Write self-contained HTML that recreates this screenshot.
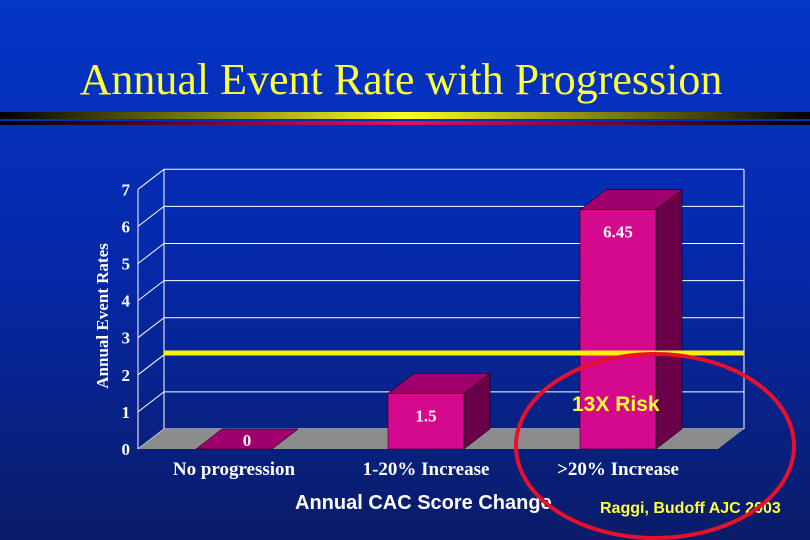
<!DOCTYPE html>
<html><head><meta charset="utf-8"><style>
body{margin:0;width:810px;height:540px;overflow:hidden;}
svg{display:block}
</style></head><body>
<svg width="810" height="540" font-family="Liberation Serif, serif">
<defs>
<linearGradient id="bg" x1="0" y1="0" x2="0" y2="1"><stop offset="0" stop-color="#0436c8"/><stop offset="0.5" stop-color="#0528a8"/><stop offset="1" stop-color="#0a1c68"/></linearGradient>
<linearGradient id="ys" x1="0" x2="1"><stop offset="0" stop-color="#000"/><stop offset="0.5" stop-color="#ffff20"/><stop offset="1" stop-color="#000"/></linearGradient>
<linearGradient id="ps" x1="0" x2="1"><stop offset="0" stop-color="#000"/><stop offset="0.5" stop-color="#e0106a"/><stop offset="1" stop-color="#000"/></linearGradient>
</defs>
<rect width="810" height="540" fill="url(#bg)"/>
<text x="401" y="94" text-anchor="middle" font-size="44" fill="#ffff40">Annual Event Rate with Progression</text>
<rect x="0" y="112" width="810" height="7" fill="url(#ys)"/>
<rect x="0" y="121" width="810" height="4" fill="url(#ps)"/>
<g id="chart"></g>
<text x="108" y="316" transform="rotate(-90 108 316)" text-anchor="middle" font-size="17" font-weight="bold" fill="#fff">Annual Event Rates</text>
<text x="295" y="509" font-family="Liberation Sans, sans-serif" font-size="20" font-weight="bold" fill="#fff">Annual CAC Score Change</text>
<text x="600" y="513" font-family="Liberation Sans, sans-serif" font-size="16" font-weight="bold" fill="#ffff40">Raggi, Budoff AJC 2003</text>
<text x="572" y="411" font-family="Liberation Sans, sans-serif" font-size="21" font-weight="bold" fill="#ffff30">13X Risk</text>
<ellipse cx="655" cy="446" rx="139" ry="92" fill="none" stroke="#e8102a" stroke-width="4"/>
</svg>
<script>
const categories=["No progression","1-20% Increase",">20% Increase"];
const values=[0,1.5,6.45];
const valueLabels=["0","1.5","6.45"];
const yTicks=[0,1,2,3,4,5,6,7];
const thresholdValue=2.05;
const NS="http://www.w3.org/2000/svg";
const g=document.getElementById("chart");
const X0=138,Y0=449,UNIT=37.1,DX=26,DY=-20,STEP=192,BW=76,FIRST=196,XR=718;
const y=v=>Y0-v*UNIT;
const xc=i=>FIRST+BW/2+i*STEP;
function mk(tag,attrs){const e=document.createElementNS(NS,tag);for(const k in attrs)e.setAttribute(k,attrs[k]);g.appendChild(e);return e;}
yTicks.forEach(t=>{
 const l=mk("polyline",{points:`${X0},${y(t)} ${X0+DX},${y(t)+DY} ${XR+DX},${y(t)+DY}`,fill:"none",stroke:"#fff","stroke-width":1});
 
 
 const tx=mk("text",{x:X0-8,y:y(t)+6,"text-anchor":"end","font-size":17,"font-weight":"bold",fill:"#fff"});
 tx.textContent=t;
 
 
});
const wallL=mk("line",{x1:X0+DX,y1:y(0)+DY,x2:X0+DX,y2:y(7)+DY,stroke:"#fff"});


const wallR=mk("line",{x1:XR+DX,y1:y(0)+DY,x2:XR+DX,y2:y(7)+DY,stroke:"#fff"});


const axis=mk("line",{x1:X0,y1:y(0),x2:X0,y2:y(7),stroke:"#fff"});


const floor=mk("polygon",{points:`${X0},${Y0} ${X0+DX},${Y0+DY} ${XR+DX},${Y0+DY} ${XR},${Y0}`,fill:"#8c8c8c"});


values.forEach((v,i)=>{
 const x1=xc(i)-BW/2,x2=xc(i)+BW/2,yt=y(v);
 const side=mk("polygon",{points:`${x2},${Y0} ${x2+DX},${Y0+DY} ${x2+DX},${yt+DY} ${x2},${yt}`,fill:"#6a0048",stroke:"#000","stroke-width":0.5});
 
 
 const top=mk("polygon",{points:`${x1},${yt} ${x1+DX},${yt+DY} ${x2+DX},${yt+DY} ${x2},${yt}`,fill:"#a0006e",stroke:"#000","stroke-width":0.5});
 
 
 if(v>0){
  const fr=mk("rect",{x:x1,y:yt,width:BW,height:Y0-yt,fill:"#d4098e",stroke:"#000","stroke-width":0.5});
  
  
 }
 const lab=mk("text",{x:xc(i)+(v>0?0:DX/2),y:v>0?yt+28:Y0-3,"text-anchor":"middle","font-size":17,"font-weight":"bold",fill:"#fff"});
 lab.textContent=valueLabels[i];
 
 
 const cl=mk("text",{x:xc(i),y:475,"text-anchor":"middle","font-size":19,"font-weight":"bold",fill:"#fff"});
 cl.textContent=categories[i];
 
 
});
const th=mk("line",{x1:X0+DX,y1:y(thresholdValue)+DY,x2:XR+DX,y2:y(thresholdValue)+DY,stroke:"#f7f30c","stroke-width":5});


</script>
</body></html>
